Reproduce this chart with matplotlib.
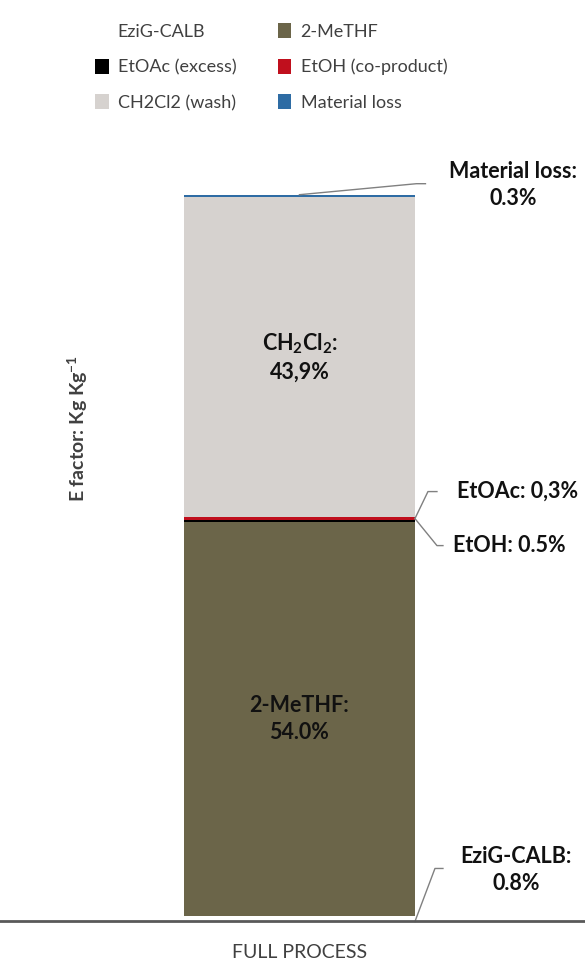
import numpy as np
import matplotlib.pyplot as plt
from matplotlib.patches import Patch

plt.rcParams['font.family'] = ['Lato', 'DejaVu Sans']
plt.rcParams['mathtext.fontset'] = 'custom'
plt.rcParams['mathtext.rm'] = 'Lato:bold'
plt.rcParams['mathtext.it'] = 'Lato:bold'
plt.rcParams['mathtext.bf'] = 'Lato:bold'

# --- Dati: contributi all'E factor (% del totale), dal basso verso l'alto ---
components = ["EziG-CALB", "2-MeTHF", "EtOAc (excess)", "EtOH (co-product)",
              "CH2Cl2 (wash)", "Material loss"]
shares = [0.8, 54.0, 0.3, 0.5, 43.9, 0.3]
colors = ["#ffffff", "#6b6549", "#000000", "#c00f1d", "#d6d2cf", "#2e6ca4"]
category = "FULL PROCESS"

fig = plt.figure(figsize=(5.85, 9.64), dpi=100)
ax = fig.add_axes([0.0, 0.0441, 1.0, 0.811])

bottoms = np.concatenate([[0], np.cumsum(shares)[:-1]])
tops = bottoms + np.array(shares)
total = tops[-1]

bar_w = 1.0
for val, b, c in zip(shares, bottoms, colors):
    ax.bar(0, val, bottom=b, width=bar_w, color=c, edgecolor="none")

ax.set_xlim(-1.296, 1.236)
ax.set_ylim(0, total * 781.5 / 726.5)

for s in ["top", "right", "left"]:
    ax.spines[s].set_visible(False)
ax.spines["bottom"].set_color("#595959")
ax.spines["bottom"].set_linewidth(2)
ax.set_yticks([])
ax.set_xticks([0])
ax.set_xticklabels([category], fontsize=14, color="#404040")
ax.tick_params(axis="x", length=0, pad=16)

fig.text(0.133, 0.556, "E factor: Kg Kg$^{-1}$", rotation=90, ha="center", va="center",
         fontsize=14, fontweight="bold", color="#404040")

# --- Etichette dentro la barra ---
lab = dict(ha="center", va="center", fontsize=15.5, fontweight="bold", color="#111111",
           linespacing=1.35)
ax.text(0, bottoms[4] + shares[4] / 2, "CH$_2$Cl$_2$:\n" + f"{shares[4]:.1f}%".replace(".", ","), **lab)
ax.text(0, bottoms[1] + shares[1] / 2, f"2-MeTHF:\n{shares[1]:.1f}%", **lab)

# --- Etichette esterne con linee guida ---
px = 1.0 / 231            # unità dati per pixel in x
py = total / 726.5        # unità dati per pixel in y
edge = bar_w / 2
line_kw = dict(color="#808080", lw=1)

def callout(x0, y0, x1, y1, x2, tx, ty, text):
    ax.plot([x0, x1, x2], [y0, y1, y1], **line_kw, clip_on=False)
    ax.text(tx, ty, text, clip_on=False, **lab)

# Material loss (in alto)
callout(0, tops[5], 117 * px, tops[5] + 11 * py, 126 * px,
        214 * px, tops[5] + 10 * py, f"Material loss:\n{shares[5]:.1f}%")
# EtOAc ed EtOH (giunzione)
callout(edge, tops[3] - 2 * py, edge + 13 * px, tops[3] + 25 * py, edge + 22 * px,
        edge + 103 * px, tops[3] + 25 * py, "EtOAc: " + f"{shares[2]:.1f}%".replace(".", ","))
callout(edge, tops[3] - 2 * py, edge + 22 * px, tops[3] - 29 * py, edge + 28 * px,
        edge + 94 * px, tops[3] - 29 * py, f"EtOH: {shares[3]:.1f}%")
# EziG-CALB (in basso)
callout(edge, 0, edge + 20 * px, 53 * py, edge + 28 * px,
        edge + 101 * px, 51 * py, f"EziG-CALB:\n{shares[0]:.1f}%")

# --- Legenda (ordine per righe, matplotlib riempie per colonne) ---
handles = [Patch(facecolor=c, edgecolor="none", label=n) for n, c in zip(components, colors)]
order = [0, 2, 4, 1, 3, 5]
fig.legend([handles[i] for i in order], [components[i] for i in order],
           ncol=2, loc="upper left", bbox_to_anchor=(0.135, 0.993), frameon=False,
           fontsize=13, labelcolor="#404040", handlelength=0.75, handleheight=0.9,
           handletextpad=0.5, columnspacing=2.3, labelspacing=1.05)

plt.savefig("out.png", dpi=100)
plt.close()
